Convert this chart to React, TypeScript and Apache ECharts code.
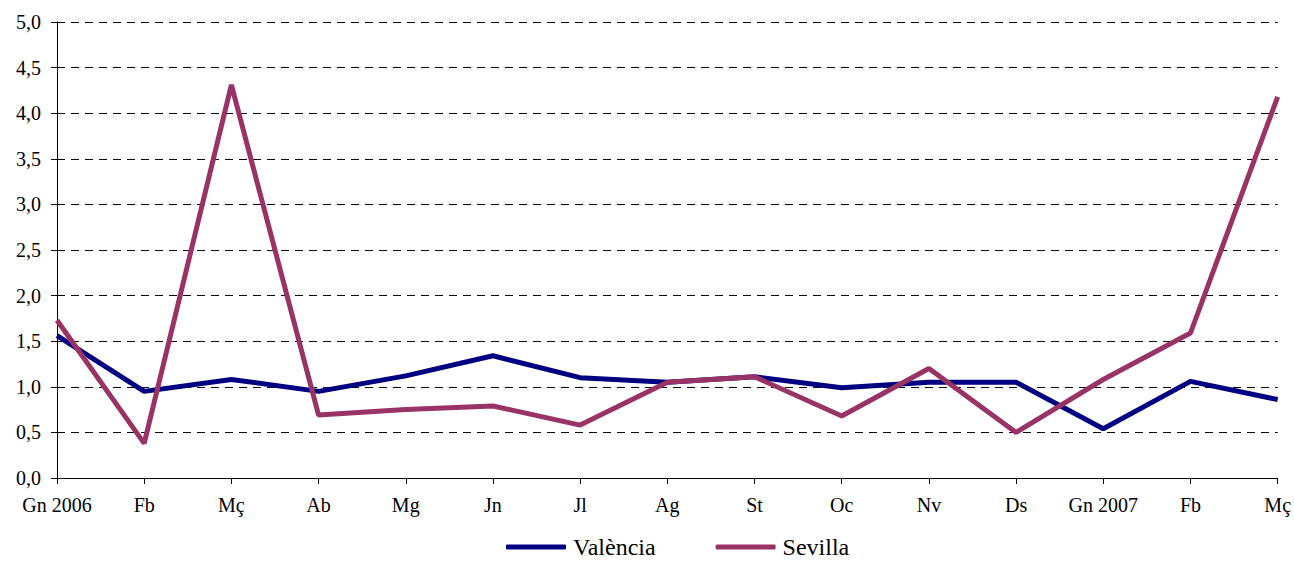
import React, { useEffect, useRef } from "react";
import * as echarts from "echarts";

const categories = ["Gn 2006", "Fb", "Mç", "Ab", "Mg", "Jn", "Jl", "Ag", "St", "Oc", "Nv", "Ds", "Gn 2007", "Fb", "Mç"];
const valencia = [1.56, 0.95, 1.08, 0.95, 1.12, 1.34, 1.10, 1.05, 1.11, 0.99, 1.05, 1.05, 0.54, 1.06, 0.86];
const sevilla = [1.73, 0.38, 4.31, 0.69, 0.75, 0.79, 0.58, 1.05, 1.11, 0.68, 1.20, 0.50, 1.08, 1.59, 4.18];

const FONT = "Liberation Serif";

export default function App() {
  const ref = useRef<HTMLDivElement>(null);
  useEffect(() => {
    document.body.style.margin = "0";
    const chart = echarts.init(ref.current!, null, { renderer: "svg" });
    chart.setOption({
      animation: false,
      backgroundColor: "#ffffff",
      textStyle: { fontFamily: FONT },
      grid: { left: 57, right: 13, top: 22, bottom: 84 },
      legend: {
        top: 534,
        left: 506,
        padding: 0,
        itemWidth: 60,
        itemHeight: 5,
        itemGap: 60,
        icon: "roundRect",
        textStyle: { fontFamily: FONT, fontSize: 24, color: "#000", lineHeight: 26, padding: [0, 0, 0, 2] },
        data: ["València", "Sevilla"],
      },
      xAxis: {
        type: "category",
        data: categories,
        boundaryGap: false,
        axisLine: { lineStyle: { color: "#000", width: 1 } },
        axisTick: { alignWithLabel: true, length: 6, lineStyle: { color: "#000" } },
        axisLabel: { fontFamily: FONT, fontSize: 20, color: "#000", margin: 17, interval: 0 },
        splitLine: { show: false },
      },
      yAxis: {
        type: "value",
        min: 0,
        max: 5,
        interval: 0.5,
        axisLine: { show: true, lineStyle: { color: "#000", width: 1 } },
        axisTick: { show: true, length: 6, lineStyle: { color: "#000" } },
        axisLabel: {
          fontFamily: FONT,
          fontSize: 20,
          color: "#000",
          margin: 16,
          formatter: (v: number) => v.toFixed(1).replace(".", ","),
        },
        splitLine: { show: true, lineStyle: { color: "#000", type: [8, 6], width: 1 } },
      },
      series: [
        {
          name: "València",
          type: "line",
          data: valencia,
          showSymbol: false,
          symbol: "none",
          lineStyle: { color: "#000080", width: 5 },
          itemStyle: { color: "#000080" },
        },
        {
          name: "Sevilla",
          type: "line",
          data: sevilla,
          showSymbol: false,
          symbol: "none",
          lineStyle: { color: "#993366", width: 5 },
          itemStyle: { color: "#993366" },
        },
      ],
    });
    return () => chart.dispose();
  }, []);
  return <div ref={ref} style={{ width: 1294, height: 562 }} />;
}
